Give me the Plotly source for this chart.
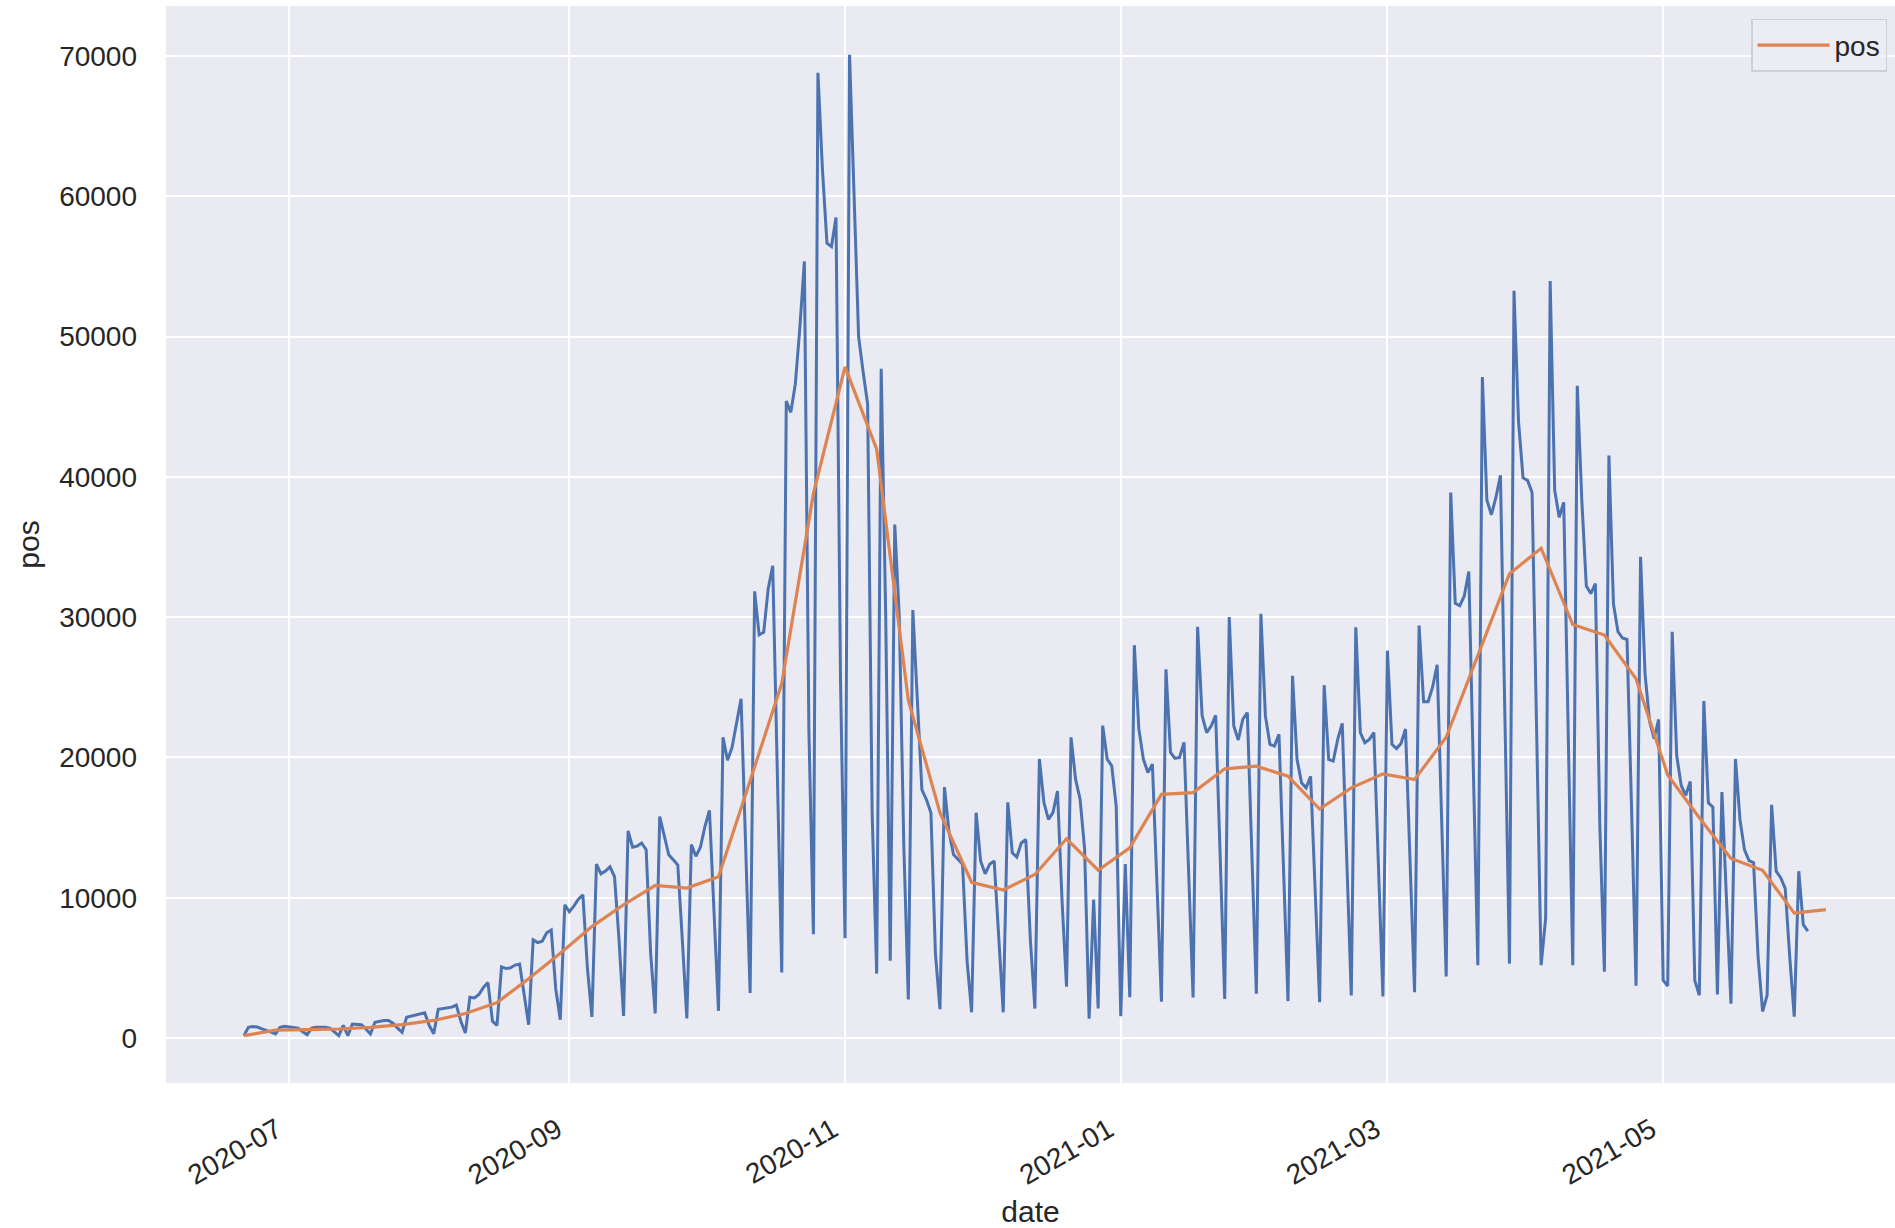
import pandas as pd
import plotly.graph_objects as go

# ---------------- data ----------------
daily_start = "2020-06-21"
daily_pos = [
    170,
    760, 810, 780, 650, 560, 420, 290,
    760, 830, 800, 760, 700, 450, 240,
    700, 760, 760, 760, 700, 450, 170,
    900, 170, 1000, 950, 950, 650, 290,
    1120, 1200, 1240, 1240, 1050, 700, 400,
    1480, 1550, 1650, 1700, 1800, 900, 300,
    2050, 2100, 2150, 2200, 2350, 1200, 350,
    2900, 2850, 3100, 3600, 3950, 1200, 900,
    5070, 4950, 5000, 5200, 5270, 3100, 950,
    7000, 6800, 6900, 7500, 7700, 3500, 1300,
    9500, 9000, 9400, 9900, 10200, 5000, 1500,
    12400, 11700, 11900, 12200, 11500, 7000, 1570,
    14770, 13600, 13680, 13900, 13420, 6000, 1750,
    15790, 14300, 13060, 12700, 12330, 7000, 1390,
    13790, 12950, 13600, 15060, 16230, 9000, 1930,
    21440, 19800, 20710, 22540, 24180, 13790, 3210,
    31840, 28740, 28920, 32020, 33660, 19180, 4670,
    45400, 44600, 46610, 50620, 55360, 22000, 7400,
    68800, 61900, 56650, 56420, 58490, 25500, 7110,
    70090, 60050, 50000, 47480, 45180, 16000, 4590,
    47700, 30000, 5500, 36600, 30000, 13760, 2750,
    30500, 24080, 17700, 17000, 16060, 6000, 2060,
    17890, 14680, 13070, 12750, 12390, 5500, 1830,
    16060, 12610, 11700, 12390, 12610, 6880, 1830,
    16800, 13200, 12900, 13900, 14150, 7000, 2100,
    19880, 16780, 15580, 16060, 17610, 9860, 3650,
    21430, 18450, 17020, 13480, 1380, 9860, 2100,
    22270, 19880, 19400, 16500, 1550, 12400, 2900,
    28000, 22030, 19880, 18930, 19520, 11050, 2580,
    26280, 20360, 19930, 20000, 21070, 12240, 2890,
    29310, 22980, 21770, 22240, 23000, 12460, 2790,
    30000, 22240, 21240, 22720, 23200, 13170, 3150,
    30240, 22960, 20930, 20810, 21650, 11980, 2630,
    25820, 19860, 18190, 17830, 18660, 10070, 2550,
    25150, 19860, 19740, 21290, 22430, 12460, 3030,
    29280, 21770, 21050, 21290, 21770, 12220, 2960,
    27610, 20930, 20630, 21000, 22030, 12000, 3260,
    29400, 23960, 23960, 25020, 26600, 15540, 4390,
    38880, 30980, 30810, 31510, 33260, 19050, 5190,
    47120, 38350, 37300, 38530, 40110, 22560, 5300,
    53260, 43960, 39930, 39750, 38880, 20800, 5190,
    8530, 53960, 39050, 37120, 38180, 22560, 5190,
    46490, 38350, 32210, 31680, 32390, 15000, 4730,
    41520, 30950, 28960, 28510, 28410, 16460, 3720,
    34300, 25910, 22560, 21340, 22710, 4120, 3700,
    28960, 20120, 17990, 17300, 18290, 4100, 3050,
    24020, 16770, 16460, 3110, 17530, 10370, 2440,
    19880, 15550, 13410, 12650, 12500, 5790, 1890,
    3050, 16620, 11890, 11430, 10670, 5790, 1520,
    11890, 8080, 7620,
]

weekly_start = "2020-06-21"
weekly_pos = [
    170, 560, 600, 640, 760, 950, 1250, 1750, 2520, 4220,
    6040, 7940, 9500, 10870, 10690, 11490, 18340, 25270, 38800, 47840,
    41970, 24080, 16060, 11100, 10550, 11650, 14200, 11960, 13560, 17370,
    17490, 19190, 19380, 18660, 16320, 17830, 18830, 18420, 21440, 27260,
    33090, 34910, 29470, 28720, 25610, 18750, 15700, 12800, 11950, 8900,
    9150,
]

x_tick_dates = ["2020-07-01", "2020-09-01", "2020-11-01", "2021-01-01", "2021-03-01", "2021-05-01"]
x_tick_labels = ["2020-07", "2020-09", "2020-11", "2021-01", "2021-03", "2021-05"]
y_tick_values = [0, 10000, 20000, 30000, 40000, 50000, 60000, 70000]
y_tick_labels = ["0", "10000", "20000", "30000", "40000", "50000", "60000", "70000"]

# ---------------- figure ----------------
daily_dates = pd.date_range(daily_start, periods=len(daily_pos), freq="D")
weekly_dates = pd.date_range(weekly_start, periods=len(weekly_pos), freq="7D")

BLUE = "#4c72b0"
ORANGE = "#dd8452"
TEXT = "#262626"
FONT = "Liberation Sans, Arial, sans-serif"

fig = go.Figure()
fig.add_trace(go.Scatter(
    x=daily_dates, y=daily_pos, mode="lines", name="pos_daily",
    line=dict(color=BLUE, width=3.0), showlegend=False,
))
fig.add_trace(go.Scatter(
    x=weekly_dates, y=weekly_pos, mode="lines", name="pos",
    line=dict(color=ORANGE, width=3.2), showlegend=True,
))

fig.update_layout(
    width=1895, height=1228,
    margin=dict(l=166, r=0, t=6, b=145),
    paper_bgcolor="white",
    plot_bgcolor="#eaeaf2",
    font=dict(family=FONT, size=28, color=TEXT),
    legend=dict(
        x=0.9954, y=0.988, xanchor="right", yanchor="top",
        bgcolor="rgba(236,236,243,0.85)", bordercolor="#cfcfd6", borderwidth=1.5,
        font=dict(size=28, color=TEXT), itemwidth=72,
    ),
)
fig.update_xaxes(
    range=["2020-06-03T18:29", "2021-06-21T07:00"],
    tickvals=x_tick_dates, ticktext=x_tick_labels, tickangle=-30,
    showgrid=True, gridcolor="white", gridwidth=2,
    zeroline=False, showline=False, ticks="",
    ticklabelstandoff=24, ticklabelshift=-12,
    title=dict(text="date", font=dict(size=30, color=TEXT), standoff=12),
    tickfont=dict(size=28, color=TEXT),
)
fig.update_yaxes(
    range=[-3208, 73564],
    tickvals=y_tick_values, ticktext=y_tick_labels,
    showgrid=True, gridcolor="white", gridwidth=2,
    zeroline=False, showline=False, ticks="",
    ticklabelstandoff=28,
    title=dict(text="pos", font=dict(size=30, color=TEXT), standoff=10),
    tickfont=dict(size=28, color=TEXT),
)

fig.write_html(
    "out.html",
    config={"displayModeBar": False},
    post_script="document.body.style.margin='0px';",
)
